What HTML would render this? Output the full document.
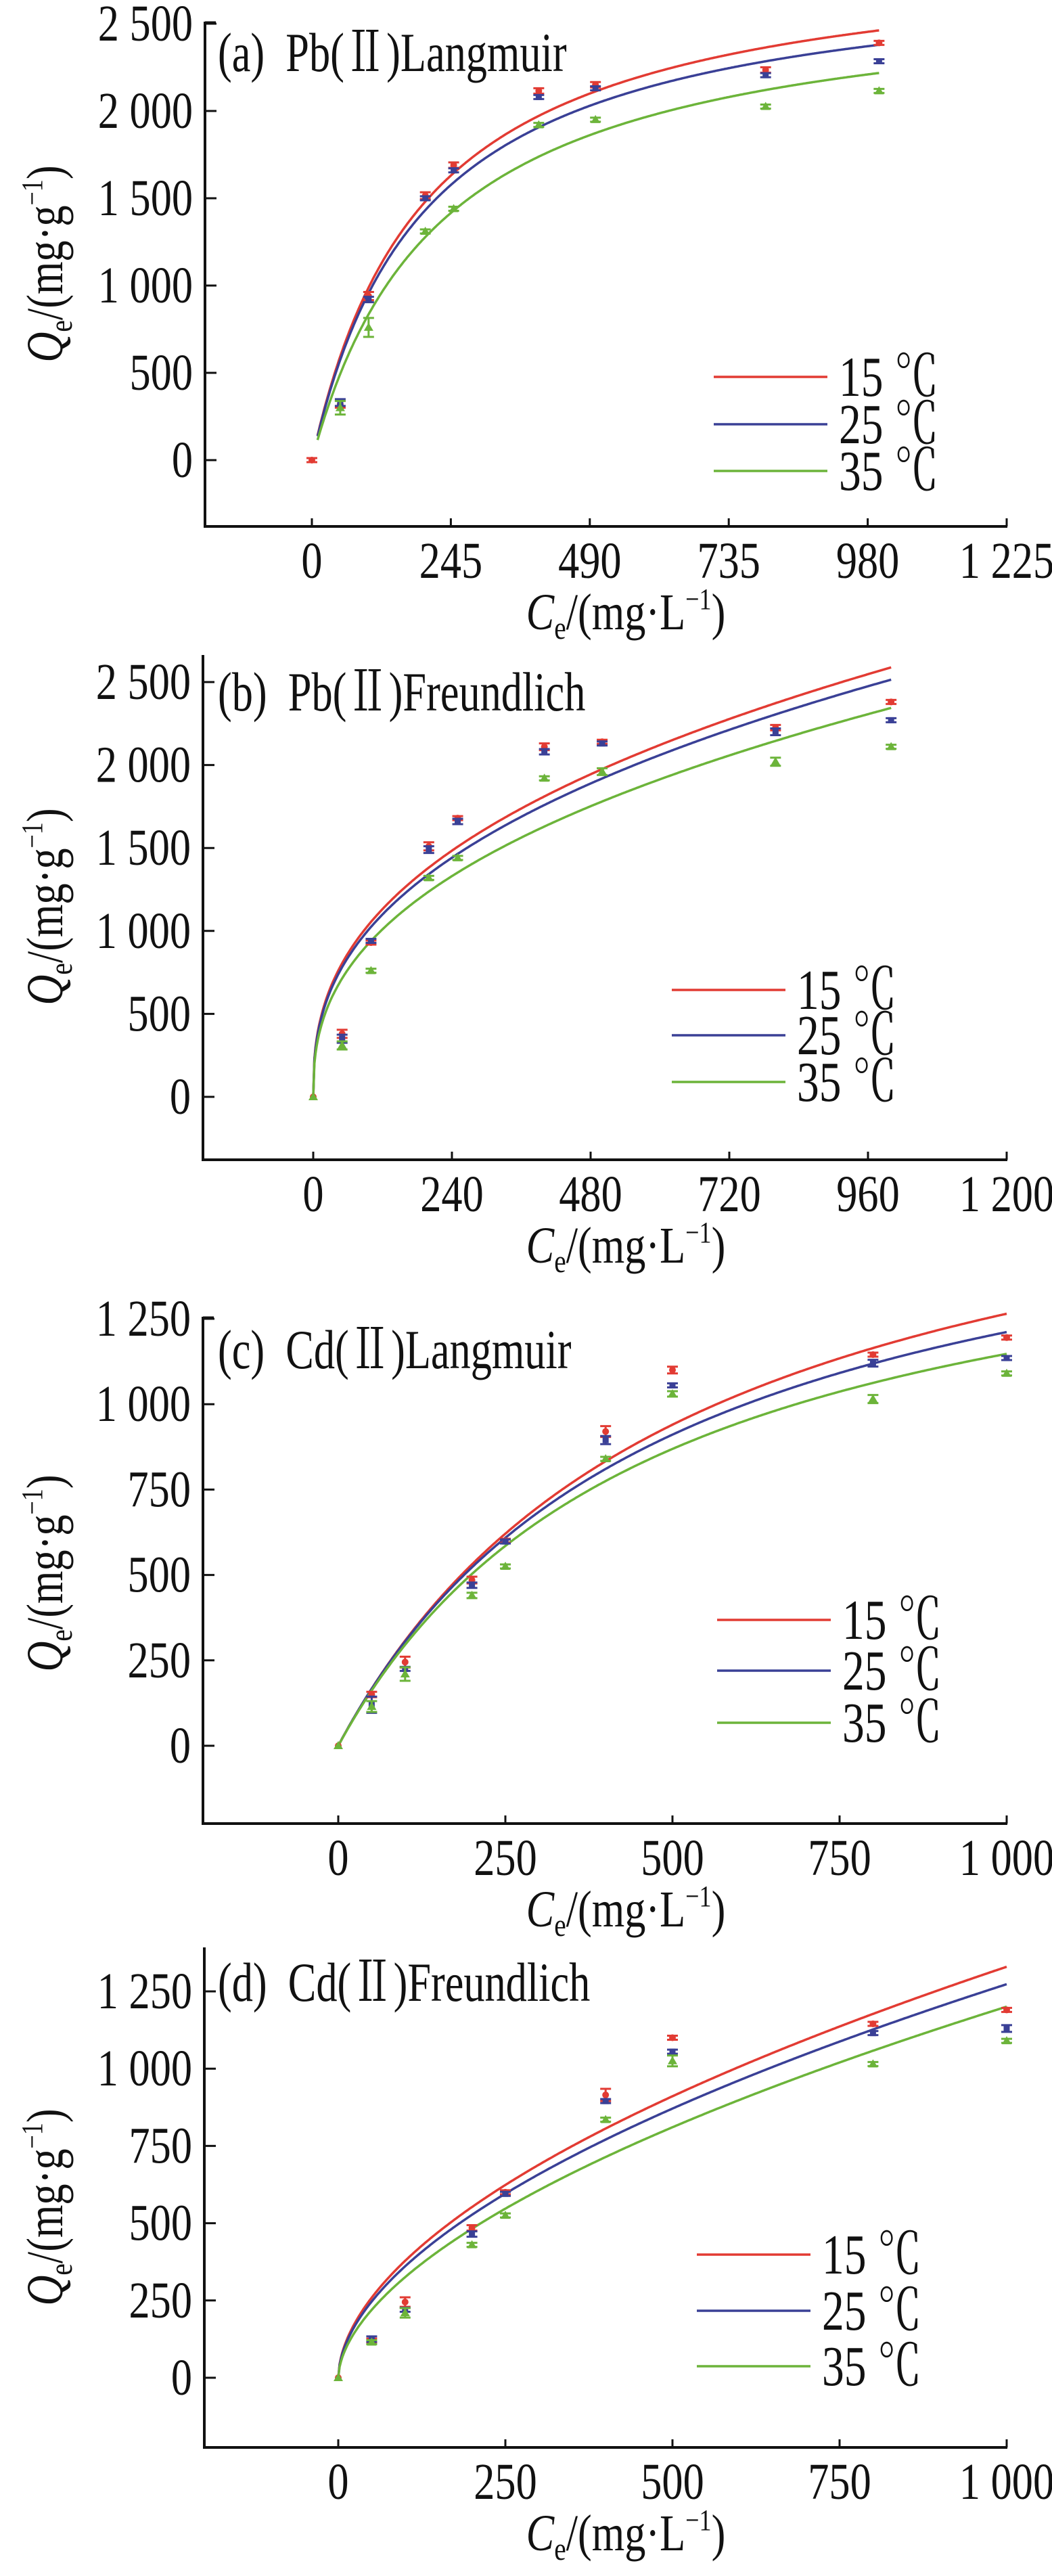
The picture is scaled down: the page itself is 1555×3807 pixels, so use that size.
<!DOCTYPE html>
<html><head><meta charset="utf-8">
<style>
html,body{margin:0;padding:0;background:#fff;}
svg{display:block;}
text{font-family:"Liberation Serif","Times New Roman","Noto Serif CJK SC",serif;fill:#111;}
</style></head>
<body>
<svg id="s" width="1555" height="3807" viewBox="0 0 1555 3807" xmlns="http://www.w3.org/2000/svg" font-family="Liberation Serif, Noto Serif CJK SC, serif"></svg>
<script>
var S=document.getElementById('s');var h='';
var RED='#e23b33',BLUE='#3a4096',GREEN='#6cb43a';
function T(x,y,size,anchor,content,rot,sx){
  var tr='translate('+x+','+y+')'+(rot?' rotate(-90)':'')+' scale('+(sx||0.82)+',1)';
  h+='<text transform="'+tr+'" x="0" y="0" font-size="'+size+'" text-anchor="'+anchor+'" xml:space="preserve">'+content+'</text>';
}
var xs=[0,50,100,200,250,400,500,800,1000];
function panel(p){
  var X=function(v){return p.x0+v*p.sx;},Y=function(v){return p.y0-v*p.sy;};
  h+='<path d="M'+p.ax+' '+p.top+' V'+p.axy+' H1489" fill="none" stroke="#111" stroke-width="4"/>';
  if(p.cap) h+='<line x1="'+p.ax+'" y1="'+(p.top+1)+'" x2="'+(p.ax+16)+'" y2="'+(p.top+1)+'" stroke="#111" stroke-width="3"/>';
  p.yt.forEach(function(t){var y=Y(t[0]);h+='<line x1="'+p.ax+'" y1="'+y+'" x2="'+(p.ax+17)+'" y2="'+y+'" stroke="#111" stroke-width="3"/>';
    T(p.ax-18,y+25,76,'end',t[1]);});
  p.xt.forEach(function(t){var x=X(t[0]);h+='<line x1="'+x+'" y1="'+p.axy+'" x2="'+x+'" y2="'+(p.axy-12)+'" stroke="#111" stroke-width="3"/>';
    T(x,p.axy+76,76,'middle',t[1]);});
  T(925,p.axy+152,76,'middle','<tspan font-style="italic">C</tspan><tspan font-size="48" dy="14">e</tspan><tspan dy="-14">/(mg·L</tspan><tspan font-size="44" dy="-30">−1</tspan><tspan dy="30">)</tspan>');
  T(92,p.yc,76,'middle','<tspan font-style="italic">Q</tspan><tspan font-size="48" dy="14">e</tspan><tspan dy="-14">/(mg·g</tspan><tspan font-size="44" dy="-30">−1</tspan><tspan dy="30">)</tspan>',true);
  T(322,p.ly,82,'start',p.label,false,0.76);
  var cols=[RED,BLUE,GREEN];
  p.f.forEach(function(fn,i){var d='';for(var c=p.c0;c<=1000;c+=2){d+=(d?'L':'M')+X(c).toFixed(1)+' '+Y(fn(c)).toFixed(1);}
    h+='<path d="'+d+'" fill="none" stroke="'+cols[i]+'" stroke-width="3.5"/>';});
  p.pts.forEach(function(arr,i){var col=cols[i];arr.forEach(function(v,k){if(v==null)return;var x=X(xs[k]),y=Y(v);var e=p.err[i][k];
    if(e>0)h+='<path d="M'+(x-8)+' '+(y-e)+'H'+(x+8)+'M'+x+' '+(y-e)+'V'+(y+e)+'M'+(x-8)+' '+(y+e)+'H'+(x+8)+'" stroke="'+col+'" stroke-width="3"/>';
    if(i==0)h+='<circle cx="'+x+'" cy="'+y+'" r="5" fill="'+col+'"/>';
    else if(i==1)h+='<rect x="'+(x-4.5)+'" y="'+(y-4.5)+'" width="9" height="9" fill="'+col+'"/>';
    else h+='<path d="M'+x+' '+(y-7)+'L'+(x+7)+' '+(y+5)+'L'+(x-7)+' '+(y+5)+'Z" fill="'+col+'"/>';});});
  ['15 ℃','25 ℃','35 ℃'].forEach(function(t,i){var y=p.lg[i];
    h+='<line x1="'+p.lx+'" y1="'+y+'" x2="'+(p.lx+168)+'" y2="'+y+'" stroke="'+cols[i]+'" stroke-width="3.5"/>';
    T(p.lx+185,y+28,84,'start',t,false,0.78);});
}
function L(q,k){return function(c){return q*k*c/(1+k*c);};}
function F(k,n){return function(c){return k*Math.pow(c,n);};}
var E1=[[3,5,6,5,4,4,4,4,3],[0,5,4,3,3,3,3,3,3],[0,10,14,3,3,3,3,3,3]];
panel({x0:461,sx:(1488-461)/1225,y0:680,sy:(680-35)/2500,ax:303,top:32,axy:778,cap:true,
 yt:[[0,'0'],[500,'500'],[1000,'1 000'],[1500,'1 500'],[2000,'2 000'],[2500,'2 500']],
 xt:[[0,'0'],[245,'245'],[490,'490'],[735,'735'],[980,'980'],[1225,'1 225']],
 yc:390,ly:105,label:'(a)  Pb(Ⅱ)Langmuir',c0:10,err:E1,
 f:[L(2950,0.00504),L(2850,0.00505),L(2717,0.00444)],
 pts:[[0,320,940,1515,1690,2115,2150,2235,2390],[null,330,920,1500,1660,2080,2130,2205,2285],[null,300,760,1310,1440,1920,1950,2025,2115]],
 lx:1055,lg:[557,627,696]});
panel({x0:463,sx:(1488-463)/1200,y0:1621,sy:(1621-1008)/2500,ax:300,top:968,axy:1714,cap:false,
 yt:[[0,'0'],[500,'500'],[1000,'1 000'],[1500,'1 500'],[2000,'2 000'],[2500,'2 500']],
 xt:[[0,'0'],[240,'240'],[480,'480'],[720,'720'],[960,'960'],[1200,'1 200']],
 yc:1340,ly:1050,label:'(b)  Pb(Ⅱ)Freundlich',c0:0,err:[[0,6,3,6,3,5,3,4,3],[0,6,3,5,4,4,3,5,3],[0,6,3,3,3,3,5,6,3]],
 f:[F(175,0.39),F(170,0.39),F(151,0.397)],
 pts:[[0,380,930,1510,1680,2110,2140,2225,2380],[null,350,940,1490,1660,2080,2130,2200,2270],[0,310,760,1320,1440,1920,1960,2020,2110]],
 lx:993,lg:[1463,1530,1599]});
panel({x0:500,sx:0.988,y0:2580,sy:(2580-1949)/1250,ax:300,top:1946,axy:2695,cap:true,
 yt:[[0,'0'],[250,'250'],[500,'500'],[750,'750'],[1000,'1 000'],[1250,'1 250']],
 xt:[[0,'0'],[250,'250'],[500,'500'],[750,'750'],[1000,'1 000']],
 yc:2325,ly:2022,label:'(c)  Cd(Ⅱ)Langmuir',c0:0,err:[[0,4,8,5,3,8,5,3,3],[0,12,3,4,3,6,3,5,3],[0,8,10,4,3,3,4,6,3]],
 f:[L(1933,0.001893),L(1807,0.002033),L(1688,0.002122)],
 pts:[[0,150,245,485,600,920,1100,1145,1195],[null,120,225,470,598,895,1055,1120,1135],[0,115,210,440,525,840,1030,1015,1090]],
 lx:1060,lg:[2394,2469,2546]});
panel({x0:500,sx:0.988,y0:3514,sy:(3514-2943)/1250,ax:302,top:2878,axy:3617,cap:false,
 yt:[[0,'0'],[250,'250'],[500,'500'],[750,'750'],[1000,'1 000'],[1250,'1 250']],
 xt:[[0,'0'],[250,'250'],[500,'500'],[750,'750'],[1000,'1 000']],
 yc:3262,ly:2957,label:'(d)  Cd(Ⅱ)Freundlich',c0:0,err:[[0,3,7,4,3,9,3,3,3],[0,4,3,4,3,3,3,3,5],[0,3,7,3,3,3,8,3,3]],
 f:[F(30.6,0.546),F(28.9,0.548),F(23.9,0.567)],
 pts:[[0,120,245,485,600,915,1100,1145,1190],[null,125,220,465,595,895,1055,1115,1130],[0,115,210,430,525,835,1025,1015,1090]],
 lx:1030,lg:[3332,3415,3497]});
S.innerHTML=h;
</script>
</body></html>
